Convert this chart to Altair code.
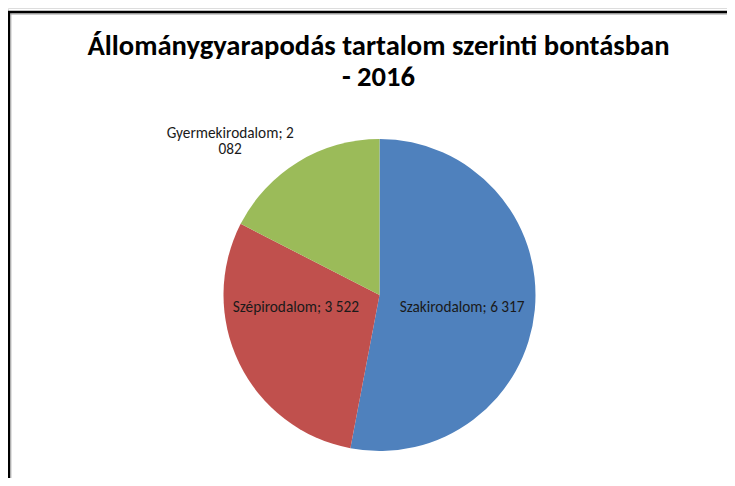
import altair as alt
import pandas as pd

categories = ["Szakirodalom", "Szépirodalom", "Gyermekirodalom"]
values = [6317, 3522, 2082]
labels = ["Szakirodalom; 6 317", "Szépirodalom; 3 522", "Gyermekirodalom; 2\n082"]
colors = ["#4F81BD", "#C0504D", "#9BBB59"]
title_lines = ["Állománygyarapodás tartalom szerinti bontásban", "- 2016"]

FONT = "Carlito, Lato, sans-serif"
CX, CY, R = 371.5, 287, 156

df = pd.DataFrame({"cat": categories, "value": values, "order": [0, 1, 2], "label": labels})

theta = alt.Theta("value:Q", stack=True)
order = alt.Order("order:Q")

pie = alt.Chart(df).mark_arc(outerRadius=R).encode(
    theta=theta,
    order=order,
    color=alt.Color("cat:N", scale=alt.Scale(domain=categories, range=colors), legend=None),
    x=alt.value(CX),
    y=alt.value(CY),
)


def label_layer(cat, radius, dx, dy):
    return alt.Chart(df).transform_calculate(
        t=f"datum.cat === '{cat}' ? datum.label : ''"
    ).mark_text(
        radius=radius, dx=dx, dy=dy, font=FONT, fontSize=15.3, color="#1a1a1a",
        baseline="alphabetic", align="center", lineBreak="\n", lineHeight=16
    ).encode(
        theta=theta, order=order, text="t:N", x=alt.value(CX), y=alt.value(CY)
    )


lab1 = label_layer("Szakirodalom", 83, 0, 9)
lab2 = label_layer("Szépirodalom", 83, -9, -19)
lab3 = label_layer("Gyermekirodalom", 200, -45, 14)

t1 = alt.Chart(pd.DataFrame({"t": [title_lines[0]]})).mark_text(
    font=FONT, fontSize=28.6, fontWeight="bold", color="#000000", baseline="alphabetic", align="center"
).encode(text="t:N", x=alt.value(370.5), y=alt.value(47.3))
t2 = alt.Chart(pd.DataFrame({"t": [title_lines[1]]})).mark_text(
    font=FONT, fontSize=28.6, fontWeight="bold", color="#000000", baseline="alphabetic", align="center"
).encode(text="t:N", x=alt.value(370.5), y=alt.value(78))

one = pd.DataFrame({"k": [0]})
border_left = alt.Chart(one).mark_rule(color="#000000", strokeWidth=2.5).encode(
    x=alt.value(0.8), y=alt.value(3), y2=alt.value(470))
border_left_g = alt.Chart(one).mark_rule(color="#9a9a9a", strokeWidth=1).encode(
    x=alt.value(2.8), y=alt.value(5), y2=alt.value(470))
border_top = alt.Chart(one).mark_rule(color="#000000", strokeWidth=2.5).encode(
    y=alt.value(4), x=alt.value(0), x2=alt.value(719))
border_top_g = alt.Chart(one).mark_rule(color="#9a9a9a", strokeWidth=1).encode(
    y=alt.value(6), x=alt.value(2.5), x2=alt.value(719))

chart = alt.layer(
    pie, lab1, lab2, lab3, t1, t2, border_left_g, border_top_g, border_left, border_top
).properties(
    width=719, height=470, autosize=alt.AutoSizeParams(type="none"), padding=0
).configure_view(stroke=None).configure(background="#ffffff")

chart.save("out.html", embed_options={"renderer": "svg", "actions": False})
